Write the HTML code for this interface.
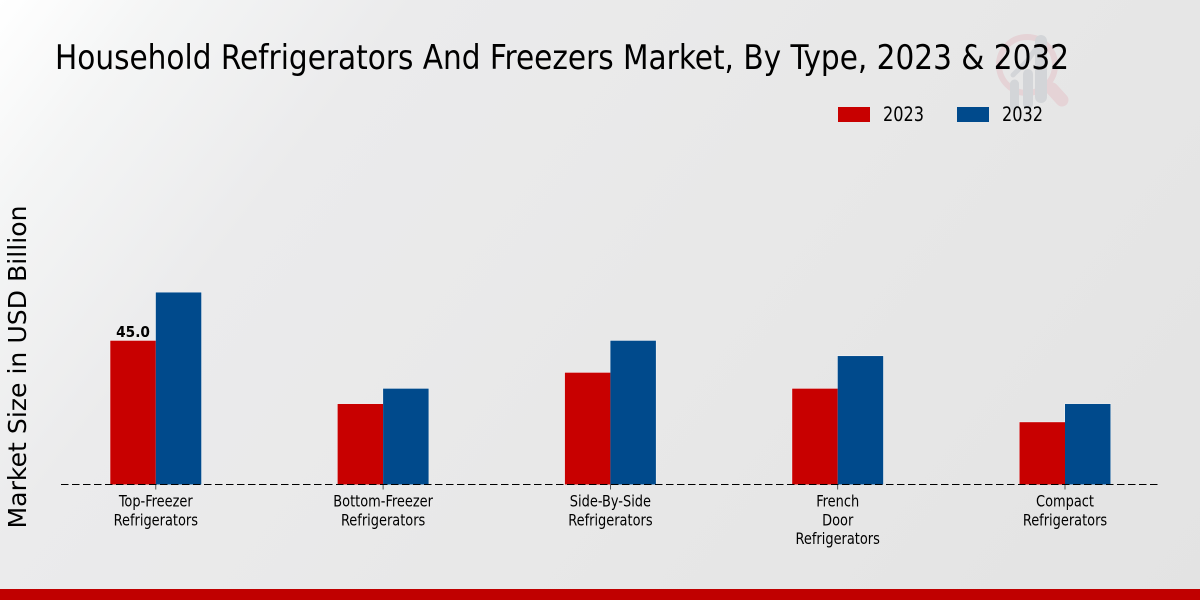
<!DOCTYPE html>
<html lang="en">
<head>
<meta charset="utf-8">
<title>Household Refrigerators And Freezers Market</title>
<style>
html,body{margin:0;padding:0;width:1200px;height:600px;overflow:hidden;background:#e6e6e6}
svg{display:block}
text{font-family:"DejaVu Sans","Liberation Sans",sans-serif;fill:#000}
.cond{font-stretch:condensed}
</style>
</head>
<body>
<svg id="chart" xmlns="http://www.w3.org/2000/svg" width="1200" height="600" viewBox="0 0 1200 600">
  <defs>
    <linearGradient id="bg" gradientUnits="userSpaceOnUse" x1="0" y1="0" x2="1050" y2="800">
      <stop offset="0" stop-color="#ffffff"/>
      <stop offset="0.1" stop-color="#f4f5f5"/>
      <stop offset="0.25" stop-color="#ebebec"/>
      <stop offset="0.55" stop-color="#e8e8e8"/>
      <stop offset="1" stop-color="#e3e3e3"/>
    </linearGradient>
  </defs>
  <rect x="0" y="0" width="1200" height="600" fill="url(#bg)"/>
  <g>
    <circle cx="1027" cy="65" r="28" fill="none" stroke="#e5d3d6" stroke-width="6"/>
    <line x1="1052" y1="89" x2="1062" y2="100" stroke="#e5d3d6" stroke-width="13" stroke-linecap="round"/>
    <line x1="1014.5" y1="84" x2="1014.5" y2="106" stroke="#d3d5d8" stroke-width="9" stroke-linecap="round"/>
    <line x1="1028" y1="74" x2="1028" y2="104" stroke="#d3d5d8" stroke-width="10" stroke-linecap="round"/>
    <line x1="1041" y1="41" x2="1041" y2="97" stroke="#d3d5d8" stroke-width="12" stroke-linecap="round"/>
    <path d="M1013 75 L1028 60 L1041 41" fill="none" stroke="#d3d5d8" stroke-width="5" stroke-linecap="round"/>
  </g>
  <text class="cond" x="55" y="69" font-size="34" textLength="1014" lengthAdjust="spacingAndGlyphs">Household Refrigerators And Freezers Market, By Type, 2023 &amp; 2032</text>
  <g>
    <rect x="838" y="107" width="32" height="15" fill="#c80000"/>
    <text class="cond" x="883" y="121" font-size="19.5" textLength="41" lengthAdjust="spacingAndGlyphs">2023</text>
    <rect x="957" y="107" width="32" height="15" fill="#004a8c"/>
    <text class="cond" x="1002" y="121" font-size="19.5" textLength="41" lengthAdjust="spacingAndGlyphs">2032</text>
  </g>
  <text transform="translate(26,367) rotate(-90)" text-anchor="middle" font-size="24.5" textLength="323" lengthAdjust="spacingAndGlyphs">Market Size in USD Billion</text>
  <g id="plot"></g>
  <rect x="0" y="589" width="1200" height="11" fill="#c00000"/>
</svg>
<script>
const categories = [
  ["Top-Freezer", "Refrigerators"],
  ["Bottom-Freezer", "Refrigerators"],
  ["Side-By-Side", "Refrigerators"],
  ["French", "Door", "Refrigerators"],
  ["Compact", "Refrigerators"]
];
const values2023 = [45.0, 25.2, 35.0, 30.0, 19.5];
const values2032 = [60.1, 30.0, 45.0, 40.2, 25.2];
const printedValues2023 = ["45.0", "", "", "", ""];

const NS = "http://www.w3.org/2000/svg";
const plot = document.getElementById("plot");
const baseY = 484.5;
const pxPerUnit = 143.8 / 45;
const firstCenter = 155.8;
const step = 227.3;
const barWidth = 45.5;

function xCenter(i) { return firstCenter + i * step; }
function yScale(v) { return baseY - v * pxPerUnit; }

function drawHalo(i, v, offset) {
  const h = document.createElementNS(NS, "rect");
  
  
  h.setAttribute("x", xCenter(i) + offset);
  h.setAttribute("y", yScale(v));
  h.setAttribute("width", barWidth);
  h.setAttribute("height", baseY - yScale(v));
  h.setAttribute("fill", "none");
  h.setAttribute("stroke", "#f4f5f6");
  h.setAttribute("stroke-width", "1");
  plot.appendChild(h);
}

function drawBar(i, v, offset, color, name) {
  const r = document.createElementNS(NS, "rect");
  
  
  r.setAttribute("x", xCenter(i) + offset);
  r.setAttribute("y", yScale(v));
  r.setAttribute("width", barWidth);
  r.setAttribute("height", baseY - yScale(v));
  r.setAttribute("fill", color);
  plot.appendChild(r);
}

categories.forEach(function (lines, i) {
  drawHalo(i, values2023[i], -barWidth);
  drawHalo(i, values2032[i], 0);
  drawBar(i, values2023[i], -barWidth, "#c80000", "bar-2023");
  drawBar(i, values2032[i], 0, "#004a8c", "bar-2032");

  const tick = document.createElementNS(NS, "line");
  
  
  tick.setAttribute("x1", xCenter(i));
  tick.setAttribute("x2", xCenter(i));
  tick.setAttribute("y1", baseY);
  tick.setAttribute("y2", baseY + 5);
  tick.setAttribute("stroke", "#333");
  tick.setAttribute("stroke-width", "0.8");
  plot.appendChild(tick);

  const label = document.createElementNS(NS, "text");
  
  
  label.setAttribute("class", "cond");
  label.setAttribute("text-anchor", "middle");
  label.setAttribute("font-size", "16");
  label.setAttribute("fill", "#111");
  label.setAttribute("transform", "translate(" + xCenter(i) + ",0) scale(0.9,1)");
  lines.forEach(function (line, j) {
    const t = document.createElementNS(NS, "tspan");
    t.setAttribute("x", 0);
    t.setAttribute("y", 506.5 + j * 18.8);
    t.textContent = line;
    label.appendChild(t);
  });
  plot.appendChild(label);

  if (printedValues2023[i]) {
    const val = document.createElementNS(NS, "text");
    
    
    val.setAttribute("text-anchor", "middle");
    val.setAttribute("font-size", "15.5");
    val.setAttribute("font-weight", "bold");
    val.setAttribute("transform", "translate(" + (xCenter(i) - barWidth / 2) + "," + (yScale(values2023[i]) - 3.8) + ") scale(0.885,1)");
    val.textContent = printedValues2023[i];
    plot.appendChild(val);
  }
});

const axis = document.createElementNS(NS, "line");


axis.setAttribute("x1", 61);
axis.setAttribute("x2", 1160);
axis.setAttribute("y1", baseY);
axis.setAttribute("y2", baseY);
axis.setAttribute("stroke", "#000");
axis.setAttribute("stroke-width", "1");
axis.setAttribute("stroke-dasharray", "7.5 3.5");
plot.appendChild(axis);
</script>
</body>
</html>
